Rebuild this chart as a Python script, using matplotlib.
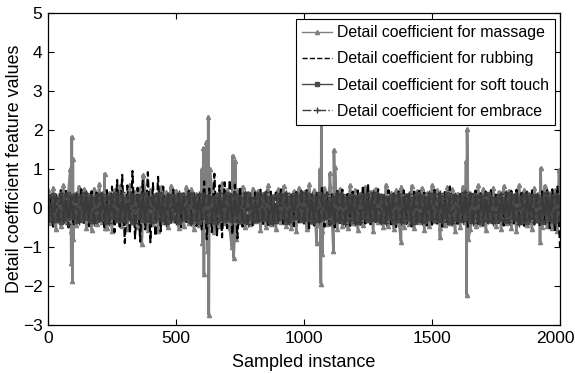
import numpy as np
import matplotlib
matplotlib.use("Agg")
import matplotlib.pyplot as plt
from matplotlib.transforms import ScaledTranslation

plt.rcParams['font.family'] = ['Liberation Sans', 'DejaVu Sans']

# Sample index grid for the regular part of each series (every 10th sample)
grid = np.arange(0, 2001, 10)

massage_base = [
    0.45, -0.38, 0.52, -0.55, 0.30, -0.47, 0.58, -0.33, 0.41, -0.60, 0.36, -0.44, 0.55, -0.29, 0.48, -0.52, 0.33, -0.57, 0.50, -0.40,
    0.62, -0.35, 0.43, -0.50, 0.38, -0.58, 0.47, -0.31, 0.56, -0.45, 0.34, -0.53, 0.60, -0.37, 0.42, -0.49, 0.51, -0.30, 0.39, -0.56,
    0.46, -0.42, 0.35, -0.59, 0.53, -0.36, 0.40, -0.48, 0.57, -0.32, 0.44, -0.51, 0.31, -0.46, 0.54, -0.39, 0.49, -0.55, 0.37, -0.43,
    0.58, -0.47, 0.41, -0.34, 0.52, -0.61, 0.36, -0.45, 0.63, -0.38, 0.47, -0.52, 0.33, -0.57, 0.45, -0.36, 0.55, -0.49, 0.39, -0.41,
    0.50, -0.33, 0.44, -0.56, 0.37, -0.48, 0.59, -0.40, 0.32, -0.54, 0.48, -0.35, 0.56, -0.46, 0.35, -0.50, 0.43, -0.58, 0.52, -0.31,
    0.40, -0.53, 0.61, -0.37, 0.46, -0.44, 0.34, -0.60, 0.51, -0.42, 0.57, -0.34, 0.38, -0.55, 0.49, -0.47, 0.30, -0.51, 0.58, -0.39,
    0.47, -0.56, 0.36, -0.43, 0.54, -0.30, 0.42, -0.58, 0.50, -0.37, 0.33, -0.49, 0.60, -0.45, 0.39, -0.53, 0.46, -0.32, 0.55, -0.48,
    0.34, -0.41, 0.57, -0.52, 0.43, -0.36, 0.51, -0.57, 0.38, -0.46, 0.59, -0.33, 0.45, -0.50, 0.32, -0.44, 0.53, -0.39, 0.48, -0.59,
    0.37, -0.48, 0.55, -0.35, 0.42, -0.54, 0.30, -0.45, 0.58, -0.40, 0.49, -0.57, 0.36, -0.31, 0.52, -0.47, 0.41, -0.53, 0.56, -0.38,
    0.44, -0.50, 0.33, -0.58, 0.59, -0.36, 0.47, -0.43, 0.35, -0.55, 0.51, -0.32, 0.40, -0.49, 0.57, -0.46, 0.38, -0.52, 0.45, -0.60,
    0.42]

# Large massage excursions (sample index, value)
massage_peak_idx = [87, 91, 93, 95, 97, 99, 221, 223, 366, 371,
                    601, 603, 607, 609, 612, 619, 623, 626, 628, 632,
                    718, 721, 725, 731, 735,
                    1049, 1062, 1066, 1068, 1071, 1101, 1115, 1117, 1121,
                    1379, 1531, 1633, 1635, 1637, 1641, 1922, 1924, 1996]
massage_peak_val = [1.00, -1.40, 1.83, -1.87, 1.25, -0.80, 0.88, -0.50, -0.93, 0.85,
                    1.00, -0.90, 1.53, -1.70, 0.90, 1.70, -1.10, 2.34, -2.74, 1.00,
                    -1.00, 1.34, -1.27, 1.20, -0.80,
                    -0.90, 1.00, -1.94, 2.80, -1.18, 0.90, -1.09, 1.49, 1.06,
                    -0.86, -0.74, 1.20, -2.23, 2.02, -0.80, -0.88, 1.02, 0.97]

rubbing = [
    -0.42, 0.35, -0.48, 0.40, -0.33, 0.46, -0.38, 0.44, -0.50, 0.31, -0.45, 0.39, -0.36, 0.48, -0.41, 0.34, -0.47, 0.43, -0.32, 0.45,
    -0.40, 0.37, -0.52, 0.46, -0.35, 0.55, -0.62, 0.72, -0.48, 0.85, -0.90, 0.58, -0.66, 0.95, -0.78, 0.52, -0.86, 0.70, -0.55, 0.92,
    -0.88, 0.64, -0.72, 0.80, -0.60, 0.55, -0.45, 0.41, -0.38, 0.47, -0.43, 0.35, -0.49, 0.40, -0.36, 0.44, -0.42, 0.38, -0.46, 0.33,
    -0.55, 0.68, -0.80, 0.50, -0.62, 0.88, -0.70, 0.58, -0.75, 0.66, -0.52, 0.72, -0.68, 0.60, -0.78, 0.55, -0.48, 0.45, -0.41, 0.37,
    -0.44, 0.40, -0.35, 0.47, -0.41, 0.36, -0.49, 0.42, -0.38, 0.45, -0.33, 0.48, -0.46, 0.39, -0.42, 0.34, -0.47, 0.41, -0.37, 0.44,
    -0.40, 0.46, -0.52, 0.38, -0.45, 0.42, -0.36, 0.55, -0.48, 0.40, -0.43, 0.35, -0.50, 0.44, -0.39, 0.47, -0.41, 0.36, -0.46, 0.42,
    -0.38, 0.45, -0.43, 0.58, -0.40, 0.62, -0.47, 0.41, -0.36, 0.48, -0.44, 0.39, -0.35, 0.46, -0.42, 0.37, -0.49, 0.43, -0.38, 0.45,
    -0.41, 0.36, -0.47, 0.42, -0.39, 0.44, -0.36, 0.40, -0.45, 0.38, -0.43, 0.47, -0.40, 0.35, -0.48, 0.41, -0.37, 0.55, -0.44, 0.39,
    -0.46, 0.40, -0.42, 0.37, -0.48, 0.43, -0.35, 0.45, -0.41, 0.38, -0.44, 0.42, -0.39, 0.46, -0.37, 0.40, -0.43, 0.36, -0.45, 0.41,
    -0.38, 0.44, -0.40, 0.47, -0.43, 0.39, -0.46, 0.41, -0.36, 0.45, -0.42, 0.38, -0.47, 0.43, -0.40, 0.46, -0.52, 0.48, -0.60, 0.55,
    -1.00]

soft_touch = [
    0.30, -0.25, 0.34, -0.31, 0.22, -0.35, 0.28, -0.27, 0.36, -0.24, 0.31, -0.33, 0.26, -0.29, 0.35, -0.22, 0.29, -0.34, 0.24, -0.30,
    0.33, -0.28, 0.25, -0.36, 0.31, -0.23, 0.35, -0.30, 0.27, -0.32, 0.23, -0.26, 0.34, -0.35, 0.28, -0.24, 0.32, -0.31, 0.36, -0.27,
    0.26, -0.33, 0.30, -0.22, 0.35, -0.29, 0.24, -0.34, 0.31, -0.26, 0.28, -0.36, 0.33, -0.25, 0.22, -0.30, 0.36, -0.28, 0.27, -0.35,
    0.34, -0.24, 0.29, -0.32, 0.25, -0.36, 0.32, -0.27, 0.23, -0.31, 0.35, -0.29, 0.30, -0.23, 0.27, -0.34, 0.24, -0.33, 0.36, -0.26,
    0.23, -0.30, 0.35, -0.28, 0.32, -0.25, 0.26, -0.35, 0.29, -0.33, 0.34, -0.22, 0.31, -0.36, 0.25, -0.27, 0.33, -0.24, 0.28, -0.32,
    0.36, -0.29, 0.27, -0.34, 0.24, -0.31, 0.35, -0.26, 0.30, -0.23, 0.22, -0.35, 0.28, -0.30, 0.34, -0.33, 0.26, -0.28, 0.31, -0.25,
    0.29, -0.36, 0.33, -0.24, 0.30, -0.32, 0.23, -0.29, 0.35, -0.27, 0.31, -0.34, 0.25, -0.22, 0.32, -0.36, 0.28, -0.31, 0.24, -0.33,
    0.32, -0.27, 0.24, -0.35, 0.36, -0.28, 0.30, -0.33, 0.26, -0.25, 0.34, -0.30, 0.22, -0.32, 0.29, -0.24, 0.35, -0.36, 0.31, -0.29,
    0.25, -0.31, 0.36, -0.26, 0.28, -0.34, 0.33, -0.23, 0.30, -0.35, 0.27, -0.28, 0.35, -0.30, 0.24, -0.32, 0.31, -0.27, 0.22, -0.34,
    0.35, -0.23, 0.31, -0.29, 0.26, -0.33, 0.34, -0.36, 0.28, -0.24, 0.32, -0.31, 0.23, -0.35, 0.36, -0.26, 0.29, -0.30, 0.33, -0.28,
    0.27]

embrace = [
    -0.33, 0.28, -0.37, 0.25, -0.30, 0.38, -0.27, 0.34, -0.40, 0.29, -0.26, 0.36, -0.35, 0.31, -0.28, 0.39, -0.32, 0.27, -0.38, 0.33,
    -0.29, 0.37, -0.34, 0.26, -0.39, 0.32, -0.25, 0.35, -0.31, 0.40, -0.36, 0.28, -0.27, 0.33, -0.38, 0.30, -0.26, 0.36, -0.34, 0.25,
    -0.37, 0.31, -0.28, 0.39, -0.33, 0.27, -0.40, 0.34, -0.29, 0.26, -0.35, 0.38, -0.30, 0.32, -0.26, 0.37, -0.39, 0.29, -0.31, 0.35,
    -0.27, 0.34, -0.38, 0.30, -0.32, 0.25, -0.36, 0.39, -0.28, 0.33, -0.25, 0.31, -0.37, 0.36, -0.34, 0.28, -0.30, 0.38, -0.40, 0.27,
    -0.35, 0.26, -0.31, 0.37, -0.27, 0.40, -0.33, 0.29, -0.38, 0.25, -0.32, 0.35, -0.28, 0.39, -0.36, 0.30, -0.25, 0.34, -0.29, 0.38,
    -0.30, 0.39, -0.26, 0.33, -0.37, 0.28, -0.34, 0.31, -0.25, 0.36, -0.39, 0.27, -0.32, 0.38, -0.29, 0.35, -0.40, 0.26, -0.33, 0.30,
    -0.38, 0.25, -0.35, 0.32, -0.29, 0.37, -0.31, 0.40, -0.27, 0.34, -0.36, 0.29, -0.39, 0.26, -0.30, 0.33, -0.28, 0.37, -0.35, 0.31,
    -0.26, 0.36, -0.40, 0.28, -0.34, 0.31, -0.37, 0.25, -0.32, 0.39, -0.29, 0.35, -0.27, 0.38, -0.33, 0.30, -0.36, 0.26, -0.38, 0.34,
    -0.31, 0.29, -0.33, 0.40, -0.25, 0.35, -0.38, 0.27, -0.36, 0.32, -0.30, 0.37, -0.34, 0.28, -0.39, 0.26, -0.29, 0.36, -0.32, 0.39,
    -0.36, 0.33, -0.27, 0.35, -0.40, 0.30, -0.32, 0.38, -0.26, 0.31, -0.37, 0.34, -0.29, 0.25, -0.35, 0.39, -0.31, 0.28, -0.38, 0.32,
    -0.34]

labels = ["Detail coefficient for massage",
          "Detail coefficient for rubbing",
          "Detail coefficient for soft touch",
          "Detail coefficient for embrace"]

x_ticks = [0, 500, 1000, 1500, 2000]
y_ticks = [-3, -2, -1, 0, 1, 2, 3, 4, 5]

# merge the regular samples with the large excursions of the massage series
m_x = np.concatenate([grid, massage_peak_idx])
m_y = np.concatenate([massage_base, massage_peak_val])
order = np.argsort(m_x, kind="stable")
m_x, m_y = m_x[order], m_y[order]

fig = plt.figure(figsize=(5.75, 3.74), dpi=100)
ax = fig.add_axes([48 / 575, 49 / 374, 512 / 575, 312 / 374])

ax.plot(m_x, m_y, color="#808080", lw=1.9, marker="^", ms=3, label=labels[0])
ax.plot(grid, rubbing, color="black", lw=1.5, ls="--", label=labels[1])
ax.plot(grid, soft_touch, color="#4a4a4a", lw=2.0, marker="s", ms=2.5, label=labels[2])
ax.plot(grid, embrace, color="#3a3a3a", lw=2.0, ls="-.", marker="+", ms=4, label=labels[3])

ax.set_xlim(0, 2000)
ax.set_ylim(-3, 5)
ax.set_xticks(x_ticks)
ax.set_yticks(y_ticks)
ax.tick_params(direction="in", length=4, top=True, right=True, labelsize=12.5, pad=4)
for sp in ax.spines.values():
    sp.set_linewidth(0.9)

# keep the last x tick label inside the canvas
last = ax.get_xticklabels()[-1]
last.set_transform(last.get_transform() + ScaledTranslation(-5 / 100, 0, fig.dpi_scale_trans))

ax.set_xlabel("Sampled instance", fontsize=13, labelpad=6)
ax.set_ylabel("Detail coefficient feature values", fontsize=12.9, labelpad=0)

leg = ax.legend(loc="upper right", bbox_to_anchor=(555 / 575, 1 - 19 / 374),
                bbox_transform=fig.transFigure, borderaxespad=0, fontsize=11.4,
                frameon=True, fancybox=False, edgecolor="black", framealpha=1,
                handlelength=1.9, handletextpad=0.3, labelspacing=0.7,
                borderpad=0.4)
leg.get_frame().set_linewidth(0.8)
for line in leg.get_lines():
    line.set_linewidth(1.0)

fig.savefig("out.png", dpi=100)
